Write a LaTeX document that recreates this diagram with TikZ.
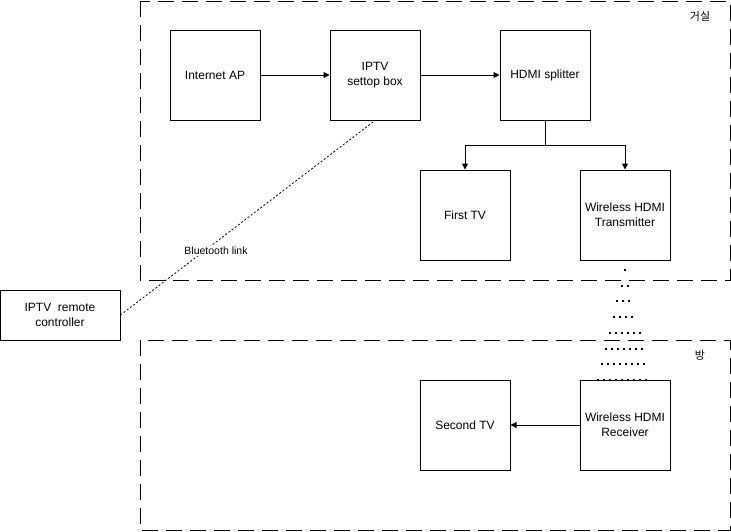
\documentclass[tikz,border=0pt]{standalone}
\usepackage{fontspec}
\setmainfont{Liberation Sans}
\newfontfamily\kofont{Noto Sans CJK KR}
\usetikzlibrary{arrows.meta}
\begin{document}
\begin{tikzpicture}[x=1pt,y=-1pt,
  box/.style={draw,line width=1pt,minimum width=90pt,minimum height=90pt,align=center,font=\fontsize{12}{15}\selectfont,inner sep=0pt},
  zone/.style={draw,line width=1pt,dash pattern=on 16pt off 8pt},
  conn/.style={line width=1pt,-{Triangle[length=6pt,width=6pt]}}]
\useasboundingbox (0,0) rectangle (731,531);
\draw[zone] (140,1) rectangle (730,280);
\draw[zone] (140,340) rectangle (730,530);
\node[font=\kofont\fontsize{11}{13}\selectfont] (lr) at (700,16) {거실};
\node[font=\kofont\fontsize{11}{13}\selectfont] (room) at (700,355) {방};
\node[box] (ap) at (215,75) {Internet AP};
\node[box] (stb) at (375,75) {IPTV\\settop box};
\node[box] (split) at (545,75) {HDMI splitter};
\node[box] (tv1) at (465,215) {First TV};
\node[box] (tx) at (625,215) {Wireless HDMI\\Transmitter};
\node[box] (tv2) at (465,425) {Second TV};
\node[box] (rx) at (625,425) {Wireless HDMI\\Receiver};
\node[box,minimum width=120pt,minimum height=50pt] (remote) at (60,315) {IPTV\ \ remote\\controller};
\draw[conn] (ap) -- (stb);
\draw[conn] (stb) -- (split);
\coordinate (sb) at (545,145);
\draw[conn] (split.south) -- (sb) -| (tv1.north);
\draw[conn] (sb) -| (tx.north);
\draw[conn] (rx) -- (tv2);
\draw[line width=0.8pt,dash pattern=on 2pt off 2pt] (remote.east) -- (stb.south);
\node[fill=white,inner sep=1.5pt,font=\fontsize{10.5}{12}\selectfont] (bt) at (216,251) {Bluetooth link};
% wireless signal dots
\foreach \y/\n/\xs in {270/1/625,286/2/622,301/3/617,317/4/614,333/6/610,349/7/606,364/8/602,380/9/598}{
  \foreach \i in {1,...,\n}{
    \fill ({\xs+(\i-1)*6-0.8},{\y-0.8}) rectangle ++(1.8,1.8);
  }
}
\end{tikzpicture}
\end{document}
